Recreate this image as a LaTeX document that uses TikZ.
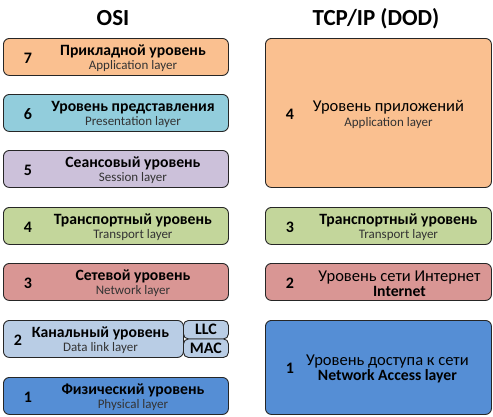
\documentclass[tikz,border=0pt]{standalone}
\usepackage{fontspec}
\setmainfont{Carlito}
\usetikzlibrary{positioning}
\definecolor{cseven}{HTML}{FAC090}
\definecolor{csix}{HTML}{92CDDC}
\definecolor{cfive}{HTML}{CCC1DA}
\definecolor{cfour}{HTML}{C3D69B}
\definecolor{cthree}{HTML}{D99694}
\definecolor{ctwo}{HTML}{B9CDE5}
\definecolor{cone}{HTML}{558ED5}
\newcommand\subtxt{\fontsize{13}{14}\selectfont\color{black!80}}
\newcommand\bigtxt{\fontsize{16.5}{14}\selectfont}
\begin{document}
\begin{tikzpicture}[x=1pt,y=-1pt,
    layer/.style={draw=black!85,line width=0.9pt,rounded corners=6pt,anchor=north west,inner sep=0pt},
    num/.style={font=\fontsize{16}{14}\selectfont\bfseries},
    txt/.style={align=center,inner sep=0pt,yshift=-1.5pt,font=\fontsize{15.7}{14}\selectfont},
    head/.style={font=\fontsize{23}{23}\selectfont\bfseries}]
  \useasboundingbox (0,0) rectangle (493,416);
  % titles
  \node[head] (osi) at (113,18.5) {OSI};
  \node[head] (tcp) at (376,18.5) {TCP/IP (DOD)};
  % OSI
  \node[layer,fill=cseven,minimum width=225pt,minimum height=37pt] (l7) at (3,38) {};
  \node[layer,fill=csix,minimum width=225pt,minimum height=37pt] (l6) at (3,94) {};
  \node[layer,fill=cfive,minimum width=225pt,minimum height=37pt] (l5) at (3,150) {};
  \node[layer,fill=cfour,minimum width=225pt,minimum height=37pt] (l4) at (3,207) {};
  \node[layer,fill=cthree,minimum width=225pt,minimum height=37pt] (l3) at (3,263) {};
  \node[layer,fill=ctwo,minimum width=180pt,minimum height=37pt] (l2) at (3,320) {};
  \node[layer,fill=ctwo,minimum width=45pt,minimum height=18.5pt,rounded corners=5pt] (llc) at (183,320) {};
  \node[layer,fill=ctwo,minimum width=45pt,minimum height=18.5pt,rounded corners=5pt] (mac) at (183,338.5) {};
  \node[layer,fill=cone,minimum width=225pt,minimum height=37pt] (l1) at (3,377) {};
  \node[num] at ([xshift=25pt,yshift=-1pt]l7.west) {7};
  \node[num] at ([xshift=25pt,yshift=-1pt]l6.west) {6};
  \node[num] at ([xshift=25pt,yshift=-1pt]l5.west) {5};
  \node[num] at ([xshift=25pt,yshift=-1pt]l4.west) {4};
  \node[num] at ([xshift=25pt,yshift=-1pt]l3.west) {3};
  \node[num] at ([xshift=15pt,yshift=-1pt]l2.west) {2};
  \node[num] at ([xshift=25pt,yshift=-1pt]l1.west) {1};
  \node[txt] at ([xshift=17pt]l7.center) {\textbf{Прикладной уровень}\\{\subtxt Application layer}};
  \node[txt] at ([xshift=17pt]l6.center) {\textbf{Уровень представления}\\{\subtxt Presentation layer}};
  \node[txt] at ([xshift=17pt]l5.center) {\textbf{Сеансовый уровень}\\{\subtxt Session layer}};
  \node[txt] at ([xshift=17pt]l4.center) {\textbf{Транспортный уровень}\\{\subtxt Transport layer}};
  \node[txt] at ([xshift=17pt]l3.center) {\textbf{Сетевой уровень}\\{\subtxt Network layer}};
  \node[txt] at ([xshift=7pt]l2.center) {\textbf{Канальный уровень}\\{\subtxt Data link layer}};
  \node[txt] at ([xshift=17pt]l1.center) {\textbf{Физический уровень}\\{\subtxt Physical layer}};
  \node[num] at (llc.center) {LLC};
  \node[num] at (mac.center) {MAC};
  % TCP/IP
  \node[layer,fill=cseven,minimum width=226pt,minimum height=149pt] (r4) at (265,38) {};
  \node[layer,fill=cfour,minimum width=226pt,minimum height=37pt] (r3) at (265,207) {};
  \node[layer,fill=cthree,minimum width=226pt,minimum height=37pt] (r2) at (265,263) {};
  \node[layer,fill=cone,minimum width=226pt,minimum height=94pt] (r1) at (265,320) {};
  \node[num] at ([xshift=25pt,yshift=-1pt]r4.west) {4};
  \node[num] at ([xshift=25pt,yshift=-1pt]r3.west) {3};
  \node[num] at ([xshift=25pt,yshift=-1pt]r2.west) {2};
  \node[num] at ([xshift=25pt,yshift=-1pt]r1.west) {1};
  \node[txt] at ([xshift=10pt]r4.center) {{\bigtxt Уровень приложений}\\[1pt]{\subtxt Application layer}};
  \node[txt] at ([xshift=20pt]r3.center) {\textbf{Транспортный уровень}\\{\subtxt Transport layer}};
  \node[txt] at ([xshift=21pt]r2.center) {{\bigtxt Уровень сети Интернет}\\[1pt]\textbf{Internet}};
  \node[txt] at ([xshift=9pt]r1.center) {{\bigtxt Уровень доступа к сети}\\[1pt]\textbf{Network Access layer}};
\end{tikzpicture}
\end{document}
